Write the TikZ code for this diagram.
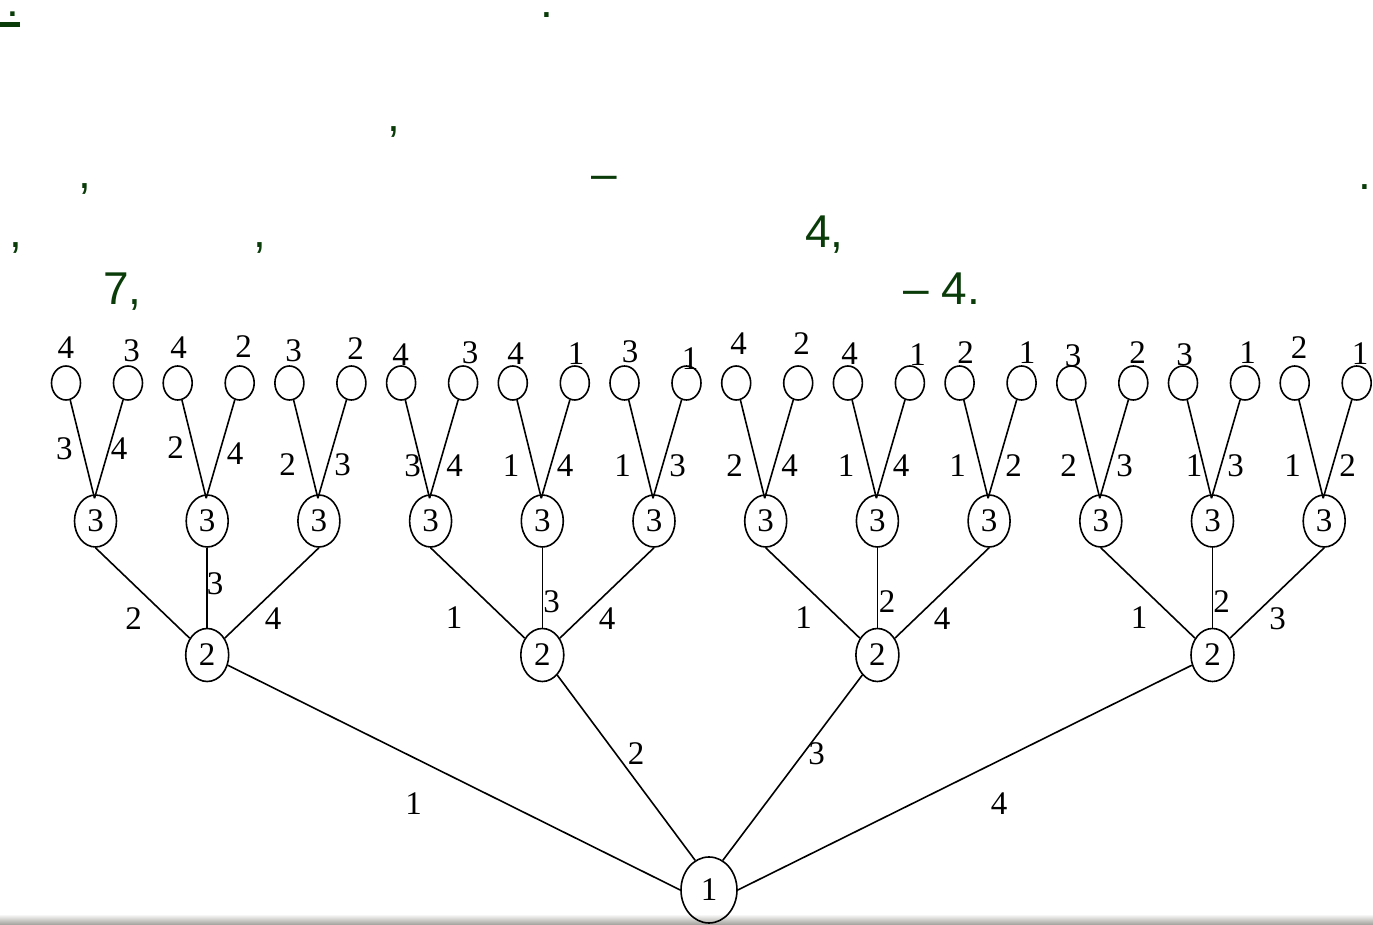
\documentclass[tikz,border=0pt]{standalone}
\usepackage{fontspec}
\setmainfont{Liberation Serif}
\newfontfamily\notefont{Liberation Sans}
\usepackage{tikz}
\usetikzlibrary{shapes.geometric}
\definecolor{notegreen}{RGB}{10,60,10}
\definecolor{bandgray}{RGB}{160,158,152}
\newcommand{\thickul}[1]{\setbox0\hbox{#1}\rlap{\rule[-5pt]{\wd0}{2.5pt}}\box0}

\begin{document}
\begin{tikzpicture}[x=0.5pt, y=-0.5pt, font=\fontsize{16.5}{19}\selectfont]
		\tikzstyle{Leaf}	= [ellipse, draw, line width=0.8pt, minimum width=14.5pt, minimum height=17pt, inner sep=0pt]
		\tikzstyle{Inner}	= [ellipse, draw, line width=0.8pt, minimum width=21pt, minimum height=26pt, inner sep=0pt]
		\tikzstyle{Root}	= [ellipse, draw, line width=0.8pt, minimum width=28pt, minimum height=33pt, inner sep=0pt]
		\tikzstyle{Lbl}		= [inner sep=0pt]
		\tikzstyle{Edge}	= [line width=0.8pt]
		\tikzstyle{Note}	= [anchor=base west, inner sep=0pt, text=notegreen, font=\notefont\fontsize{23}{27}\selectfont]

		\useasboundingbox (0,0) rectangle (1373,925);

		% grey strip at the bottom edge
		\shade [top color=white, bottom color=bandgray] (0,914) rectangle (1373,925);

		% green text remains
		\node (g1) at (20,17) [Note, anchor=base east] {\thickul{\hspace{3.6pt}:}};
		\node (g2) at (540,18) [Note] {.};
		\node (g3) at (387,132) [Note] {,};
		\node (g4) at (78,189) [Note] {,};
		\node (g5) at (591,190) [Note] {–};
		\node (g6) at (1358,190) [Note] {.};
		\node (g7) at (9,248) [Note] {,};
		\node (g8) at (253,248) [Note] {,};
		\node (g9) at (805,248) [Note] {4,};
		\node (g10) at (103,305) [Note] {7,};
		\node (g11) at (903,305) [Note] {– 4.};

		% tree
		\node (root) at (709,890) [Root] {1};

		\node (s1) at (207.2,655) [Inner, minimum width=21.5pt, minimum height=26.5pt] {2};
		\node (s2) at (542.3,655) [Inner, minimum width=21.5pt, minimum height=26.5pt] {2};
		\node (s3) at (877.4,655) [Inner, minimum width=21.5pt, minimum height=26.5pt] {2};
		\node (s4) at (1212.5,655) [Inner, minimum width=21.5pt, minimum height=26.5pt] {2};

		\node (t1) at (95.5,521) [Inner] {3};
		\node (t2) at (207.2,521) [Inner] {3};
		\node (t3) at (318.9,521) [Inner] {3};
		\node (t4) at (430.6,521) [Inner] {3};
		\node (t5) at (542.3,521) [Inner] {3};
		\node (t6) at (654.0,521) [Inner] {3};
		\node (t7) at (765.7,521) [Inner] {3};
		\node (t8) at (877.4,521) [Inner] {3};
		\node (t9) at (989.1,521) [Inner] {3};
		\node (t10) at (1100.8,521) [Inner] {3};
		\node (t11) at (1212.5,521) [Inner] {3};
		\node (t12) at (1324.2,521) [Inner] {3};

		\node (f1) at (66.0,383) [Leaf] {};
		\node (f2) at (128.0,383) [Leaf] {};
		\node (f3) at (177.7,383) [Leaf] {};
		\node (f4) at (239.7,383) [Leaf] {};
		\node (f5) at (289.4,383) [Leaf] {};
		\node (f6) at (351.4,383) [Leaf] {};
		\node (f7) at (401.1,383) [Leaf] {};
		\node (f8) at (463.1,383) [Leaf] {};
		\node (f9) at (512.8,383) [Leaf] {};
		\node (f10) at (574.8,383) [Leaf] {};
		\node (f11) at (624.5,383) [Leaf] {};
		\node (f12) at (686.5,383) [Leaf] {};
		\node (f13) at (736.2,383) [Leaf] {};
		\node (f14) at (798.2,383) [Leaf] {};
		\node (f15) at (847.9,383) [Leaf] {};
		\node (f16) at (909.9,383) [Leaf] {};
		\node (f17) at (959.6,383) [Leaf] {};
		\node (f18) at (1021.6,383) [Leaf] {};
		\node (f19) at (1071.3,383) [Leaf] {};
		\node (f20) at (1133.3,383) [Leaf] {};
		\node (f21) at (1183.0,383) [Leaf] {};
		\node (f22) at (1245.0,383) [Leaf] {};
		\node (f23) at (1294.7,383) [Leaf] {};
		\node (f24) at (1356.7,383) [Leaf] {};

		% root edges
		\draw [-] (s1) to (root.west) [Edge];
		\draw [-] (s2) to (root.115) [Edge];
		\draw [-] (s3) to (root.65) [Edge];
		\draw [-] (s4) to (root.east) [Edge];

		% middle edges
		\draw [-] (t1.south) to (s1) [Edge];
		\draw [-] (t2.south) to (s1) [Edge];
		\draw [-] (t3.south) to (s1) [Edge];
		\draw [-] (t4.south) to (s2) [Edge];
		\draw [-] (t5.south) to (s2) [Edge];
		\draw [-] (t6.south) to (s2) [Edge];
		\draw [-] (t7.south) to (s3) [Edge];
		\draw [-] (t8.south) to (s3) [Edge];
		\draw [-] (t9.south) to (s3) [Edge];
		\draw [-] (t10.south) to (s4) [Edge];
		\draw [-] (t11.south) to (s4) [Edge];
		\draw [-] (t12.south) to (s4) [Edge];

		% leaf edges
		\draw [-] (f1) to ([shift={(-1,4)}]t1.north) [Edge];
		\draw [-] (f2) to ([shift={(-1,4)}]t1.north) [Edge];
		\draw [-] (f3) to ([shift={(-1,4)}]t2.north) [Edge];
		\draw [-] (f4) to ([shift={(-1,4)}]t2.north) [Edge];
		\draw [-] (f5) to ([shift={(-1,4)}]t3.north) [Edge];
		\draw [-] (f6) to ([shift={(-1,4)}]t3.north) [Edge];
		\draw [-] (f7) to ([shift={(-1,4)}]t4.north) [Edge];
		\draw [-] (f8) to ([shift={(-1,4)}]t4.north) [Edge];
		\draw [-] (f9) to ([shift={(-1,4)}]t5.north) [Edge];
		\draw [-] (f10) to ([shift={(-1,4)}]t5.north) [Edge];
		\draw [-] (f11) to ([shift={(-1,4)}]t6.north) [Edge];
		\draw [-] (f12) to ([shift={(-1,4)}]t6.north) [Edge];
		\draw [-] (f13) to ([shift={(-1,4)}]t7.north) [Edge];
		\draw [-] (f14) to ([shift={(-1,4)}]t7.north) [Edge];
		\draw [-] (f15) to ([shift={(-1,4)}]t8.north) [Edge];
		\draw [-] (f16) to ([shift={(-1,4)}]t8.north) [Edge];
		\draw [-] (f17) to ([shift={(-1,4)}]t9.north) [Edge];
		\draw [-] (f18) to ([shift={(-1,4)}]t9.north) [Edge];
		\draw [-] (f19) to ([shift={(-1,4)}]t10.north) [Edge];
		\draw [-] (f20) to ([shift={(-1,4)}]t10.north) [Edge];
		\draw [-] (f21) to ([shift={(-1,4)}]t11.north) [Edge];
		\draw [-] (f22) to ([shift={(-1,4)}]t11.north) [Edge];
		\draw [-] (f23) to ([shift={(-1,4)}]t12.north) [Edge];
		\draw [-] (f24) to ([shift={(-1,4)}]t12.north) [Edge];

		% labels above the leaves
		\node (k1) at (66,348) [Lbl] {4};
		\node (k2) at (131.5,351) [Lbl] {3};
		\node (k3) at (178.5,347.5) [Lbl] {4};
		\node (k4) at (243.5,347) [Lbl] {2};
		\node (k5) at (293.5,351) [Lbl] {3};
		\node (k6) at (355.5,348.5) [Lbl] {2};
		\node (k7) at (400.5,355) [Lbl] {4};
		\node (k8) at (470,352.5) [Lbl] {3};
		\node (k9) at (515.5,354) [Lbl] {4};
		\node (k10) at (576,354) [Lbl] {1};
		\node (k11) at (630,352) [Lbl] {3};
		\node (k12) at (690,358.5) [Lbl] {1};
		\node (k13) at (738.5,344) [Lbl] {4};
		\node (k14) at (801.5,344) [Lbl] {2};
		\node (k15) at (849.5,353.5) [Lbl] {4};
		\node (k16) at (917.5,355) [Lbl] {1};
		\node (k17) at (965.5,352.5) [Lbl] {2};
		\node (k18) at (1027,353) [Lbl] {1};
		\node (k19) at (1073,356) [Lbl] {3};
		\node (k20) at (1137.5,352.5) [Lbl] {2};
		\node (k21) at (1184.5,355) [Lbl] {3};
		\node (k22) at (1247.5,353) [Lbl] {1};
		\node (k23) at (1299,348) [Lbl] {2};
		\node (k24) at (1360,354) [Lbl] {1};

		% leaf edge labels
		\node (e1) at (64.5,448.5) [Lbl] {3};
		\node (e2) at (119,448.5) [Lbl] {4};
		\node (e3) at (175.5,448) [Lbl] {2};
		\node (e4) at (235,454) [Lbl] {4};
		\node (e5) at (287.5,465) [Lbl] {2};
		\node (e6) at (342.5,465) [Lbl] {3};
		\node (e7) at (412.5,466) [Lbl] {3};
		\node (e8) at (454.5,466) [Lbl] {4};
		\node (e9) at (511,466) [Lbl] {1};
		\node (e10) at (565,466) [Lbl] {4};
		\node (e11) at (622.5,466) [Lbl] {1};
		\node (e12) at (677.5,466) [Lbl] {3};
		\node (e13) at (734.5,466) [Lbl] {2};
		\node (e14) at (789.5,466) [Lbl] {4};
		\node (e15) at (846,466) [Lbl] {1};
		\node (e16) at (901,466) [Lbl] {4};
		\node (e17) at (957.5,466) [Lbl] {1};
		\node (e18) at (1013.5,466) [Lbl] {2};
		\node (e19) at (1068.5,466) [Lbl] {2};
		\node (e20) at (1124.5,466) [Lbl] {3};
		\node (e21) at (1194,466) [Lbl] {1};
		\node (e22) at (1235.5,466) [Lbl] {3};
		\node (e23) at (1292.5,466) [Lbl] {1};
		\node (e24) at (1347.5,466) [Lbl] {2};

		% middle edge labels
		\node (m1) at (133.5,618.5) [Lbl] {2};
		\node (m2) at (215,583.5) [Lbl] {3};
		\node (m3) at (273,619) [Lbl] {4};
		\node (m4) at (454,618) [Lbl] {1};
		\node (m5) at (551.5,601.5) [Lbl] {3};
		\node (m6) at (607,619) [Lbl] {4};
		\node (m7) at (803.5,618) [Lbl] {1};
		\node (m8) at (887,601.5) [Lbl] {2};
		\node (m9) at (942,619) [Lbl] {4};
		\node (m10) at (1139,618) [Lbl] {1};
		\node (m11) at (1221.5,601.5) [Lbl] {2};
		\node (m12) at (1277.5,619) [Lbl] {3};

		% root edge labels
		\node (r1) at (413.5,803.5) [Lbl] {1};
		\node (r2) at (636,754) [Lbl] {2};
		\node (r3) at (816.5,753.5) [Lbl] {3};
		\node (r4) at (999,803.5) [Lbl] {4};
	\end{tikzpicture}
\end{document}
